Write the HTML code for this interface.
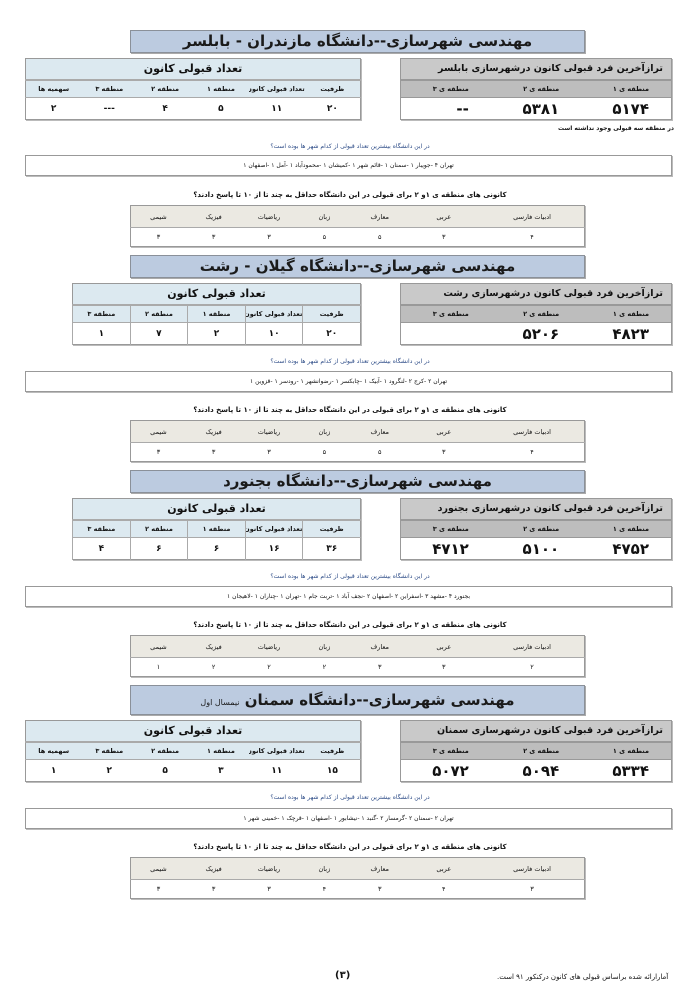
<!DOCTYPE html>
<html><head><meta charset="utf-8"><style>
*{margin:0;padding:0;box-sizing:border-box}
body{width:700px;height:991px;background:#fff;position:relative;font-family:"DejaVu Sans","Liberation Sans",sans-serif;direction:rtl;overflow:hidden;color:#111}
.a{position:absolute}
.title{background:#bccbe0;border:1px solid #8a9099;box-shadow:1px 1px 0 #aaa;text-align:center;font-size:15px;line-height:20px;font-weight:bold;color:#1a1a1a}
table{border-collapse:collapse;table-layout:fixed;position:absolute;direction:rtl}
td{text-align:center;border:none;padding:0;overflow:hidden;white-space:nowrap}
.L{border:1px solid #999;box-shadow:1px 1px 0 #bbb}
.L .h td{background:#dce9f0;font-size:11px;font-weight:bold;border-bottom:2px solid #aaa;height:21px}
.L .s td{background:#dce9f0;font-size:6.5px;font-weight:bold;border-bottom:1px solid #aaa;height:18px}
.L .d td{font-size:9px;font-weight:bold;height:22px}
.L.v .s td,.L.v .d td{border-left:1px solid #aaa}
.R{border:1px solid #999;box-shadow:1px 1px 0 #bbb}
.R .h td{background:#c9c9c9;font-size:9.5px;font-weight:bold;text-align:right;padding-right:8px;border-bottom:2px solid #999;height:21px}
.R .s td{background:#bdbdbd;font-size:6.5px;font-weight:bold;text-align:right;padding-right:22px;border-bottom:1px solid #999;height:18px}
.R .d td{font-size:15px;font-weight:bold;text-align:right;padding-right:22px;height:22px}
.q{font-size:6px;color:#2b4a86;text-align:center;width:700px;left:0}
.q2{font-size:7px;font-weight:bold;text-align:center;width:700px;left:0}
.c{border:1px solid #999;box-shadow:1px 1px 0 #bbb;font-size:6px;text-align:center;line-height:19px;left:25px;width:647px;height:21px}
.S{border:1px solid #999;box-shadow:1px 1px 0 #bbb;width:455px;left:130px}
.S .h td{background:#ebe9e2;font-size:6.5px;height:22px;border-bottom:1px solid #aaa}
.S .d td{font-size:6.5px;height:19px}
</style></head><body>

<!-- Section 1 -->
<div class="a title" style="left:130px;top:30px;width:455px;height:23px">مهندسی شهرسازی--دانشگاه مازندران - بابلسر</div>
<table class="L" style="left:25px;top:58px;width:336px">
<tr class="h"><td colspan="6">تعداد قبولی کانون</td></tr>
<tr class="s"><td>ظرفیت</td><td>تعداد قبولی کانون</td><td>منطقه ۱</td><td>منطقه ۲</td><td>منطقه ۳</td><td>سهمیه ها</td></tr>
<tr class="d"><td>۲۰</td><td>۱۱</td><td>۵</td><td>۴</td><td>---</td><td>۲</td></tr></table>
<table class="R" style="left:400px;top:58px;width:272px">
<tr class="h"><td colspan="3">ترازآخرین فرد قبولی کانون درشهرسازی بابلسر</td></tr>
<tr class="s"><td>منطقه ی ۱</td><td>منطقه ی ۲</td><td>منطقه ی ۳</td></tr>
<tr class="d"><td>۵۱۷۴</td><td>۵۳۸۱</td><td>--</td></tr></table>
<div class="a" style="right:26px;top:125px;font-size:6px;font-weight:bold">در منطقه سه قبولی وجود نداشته است</div>
<div class="a q" style="top:143px">در این دانشگاه بیشترین تعداد قبولی از کدام شهر ها بوده است؟</div>
<div class="a c" style="top:155px">تهران ۴ -جویبار ۱ -سمنان ۱ -قائم شهر ۱ -کمیشان ۱ -محمودآباد ۱ -آمل ۱ -اصفهان ۱</div>
<div class="a q2" style="top:191px">کانونی های منطقه ی ۱و ۲ برای قبولی در این دانشگاه حداقل به چند تا از ۱۰ تا پاسخ دادند؟</div>
<table class="a S" style="top:205px">
<tr class="h"><td style="width:23%">ادبیات فارسی</td><td style="width:16%">عربی</td><td>معارف</td><td>زبان</td><td>ریاضیات</td><td>فیزیک</td><td>شیمی</td></tr>
<tr class="d"><td>۴</td><td>۳</td><td>۵</td><td>۵</td><td>۳</td><td>۳</td><td>۳</td></tr></table>

<!-- Section 2 -->
<div class="a title" style="left:130px;top:255px;width:455px;height:23px">مهندسی شهرسازی--دانشگاه گیلان - رشت</div>
<table class="L v" style="left:72px;top:283px;width:289px">
<tr class="h"><td colspan="5">تعداد قبولی کانون</td></tr>
<tr class="s"><td>ظرفیت</td><td>تعداد قبولی کانون</td><td>منطقه ۱</td><td>منطقه ۲</td><td>منطقه ۳</td></tr>
<tr class="d"><td>۲۰</td><td>۱۰</td><td>۲</td><td>۷</td><td>۱</td></tr></table>
<table class="R" style="left:400px;top:283px;width:272px">
<tr class="h"><td colspan="3">ترازآخرین فرد قبولی کانون درشهرسازی رشت</td></tr>
<tr class="s"><td>منطقه ی ۱</td><td>منطقه ی ۲</td><td>منطقه ی ۳</td></tr>
<tr class="d"><td>۴۸۲۳</td><td>۵۲۰۶</td><td></td></tr></table>
<div class="a q" style="top:358px">در این دانشگاه بیشترین تعداد قبولی از کدام شهر ها بوده است؟</div>
<div class="a c" style="top:371px">تهران ۲ -کرج ۲ -لنگرود ۱ -آبیک ۱ -چابکسر ۱ -رضوانشهر ۱ -رودسر ۱ -قزوین ۱</div>
<div class="a q2" style="top:406px">کانونی های منطقه ی ۱و ۲ برای قبولی در این دانشگاه حداقل به چند تا از ۱۰ تا پاسخ دادند؟</div>
<table class="a S" style="top:420px">
<tr class="h"><td style="width:23%">ادبیات فارسی</td><td style="width:16%">عربی</td><td>معارف</td><td>زبان</td><td>ریاضیات</td><td>فیزیک</td><td>شیمی</td></tr>
<tr class="d"><td>۴</td><td>۳</td><td>۵</td><td>۵</td><td>۳</td><td>۳</td><td>۳</td></tr></table>

<!-- Section 3 -->
<div class="a title" style="left:130px;top:470px;width:455px;height:23px">مهندسی شهرسازی--دانشگاه بجنورد</div>
<table class="L v" style="left:72px;top:498px;width:289px">
<tr class="h"><td colspan="5">تعداد قبولی کانون</td></tr>
<tr class="s"><td>ظرفیت</td><td>تعداد قبولی کانون</td><td>منطقه ۱</td><td>منطقه ۲</td><td>منطقه ۳</td></tr>
<tr class="d"><td>۳۶</td><td>۱۶</td><td>۶</td><td>۶</td><td>۴</td></tr></table>
<table class="R" style="left:400px;top:498px;width:272px">
<tr class="h"><td colspan="3">ترازآخرین فرد قبولی کانون درشهرسازی بجنورد</td></tr>
<tr class="s"><td>منطقه ی ۱</td><td>منطقه ی ۲</td><td>منطقه ی ۳</td></tr>
<tr class="d"><td>۴۷۵۲</td><td>۵۱۰۰</td><td>۴۷۱۲</td></tr></table>
<div class="a q" style="top:573px">در این دانشگاه بیشترین تعداد قبولی از کدام شهر ها بوده است؟</div>
<div class="a c" style="top:586px">بجنورد ۴ -مشهد ۳ -اسفراین ۲ -اصفهان ۲ -نجف آباد ۱ -تربت جام ۱ -تهران ۱ -چناران ۱ -لاهیجان ۱</div>
<div class="a q2" style="top:621px">کانونی های منطقه ی ۱و ۲ برای قبولی در این دانشگاه حداقل به چند تا از ۱۰ تا پاسخ دادند؟</div>
<table class="a S" style="top:635px">
<tr class="h"><td style="width:23%">ادبیات فارسی</td><td style="width:16%">عربی</td><td>معارف</td><td>زبان</td><td>ریاضیات</td><td>فیزیک</td><td>شیمی</td></tr>
<tr class="d"><td>۲</td><td>۳</td><td>۳</td><td>۲</td><td>۲</td><td>۲</td><td>۱</td></tr></table>

<!-- Section 4 -->
<div class="a title" style="left:130px;top:685px;width:455px;height:30px;line-height:28px">مهندسی شهرسازی--دانشگاه سمنان <span style="font-size:8px;font-weight:normal">نیمسال اول</span></div>
<table class="L" style="left:25px;top:720px;width:336px">
<tr class="h"><td colspan="6">تعداد قبولی کانون</td></tr>
<tr class="s"><td>ظرفیت</td><td>تعداد قبولی کانون</td><td>منطقه ۱</td><td>منطقه ۲</td><td>منطقه ۳</td><td>سهمیه ها</td></tr>
<tr class="d"><td>۱۵</td><td>۱۱</td><td>۳</td><td>۵</td><td>۲</td><td>۱</td></tr></table>
<table class="R" style="left:400px;top:720px;width:272px">
<tr class="h"><td colspan="3">ترازآخرین فرد قبولی کانون درشهرسازی سمنان</td></tr>
<tr class="s"><td>منطقه ی ۱</td><td>منطقه ی ۲</td><td>منطقه ی ۳</td></tr>
<tr class="d"><td>۵۳۳۴</td><td>۵۰۹۴</td><td>۵۰۷۲</td></tr></table>
<div class="a q" style="top:794px">در این دانشگاه بیشترین تعداد قبولی از کدام شهر ها بوده است؟</div>
<div class="a c" style="top:808px">تهران ۲ -سمنان ۲ -گرمسار ۲ -گنبد ۱ -نیشابور ۱ -اصفهان ۱ -قرچک ۱ -خمینی شهر ۱</div>
<div class="a q2" style="top:843px">کانونی های منطقه ی ۱و ۲ برای قبولی در این دانشگاه حداقل به چند تا از ۱۰ تا پاسخ دادند؟</div>
<table class="a S" style="top:857px">
<tr class="h"><td style="width:23%">ادبیات فارسی</td><td style="width:16%">عربی</td><td>معارف</td><td>زبان</td><td>ریاضیات</td><td>فیزیک</td><td>شیمی</td></tr>
<tr class="d"><td>۳</td><td>۴</td><td>۳</td><td>۴</td><td>۳</td><td>۳</td><td>۳</td></tr></table>

<div class="a" style="left:335px;top:970px;font-size:10px;font-weight:bold">(۳)</div>
<div class="a" style="left:497px;top:973px;font-size:7px">آمارارائه شده براساس قبولی های کانون درکنکور ۹۱ است.</div>
</body></html>
